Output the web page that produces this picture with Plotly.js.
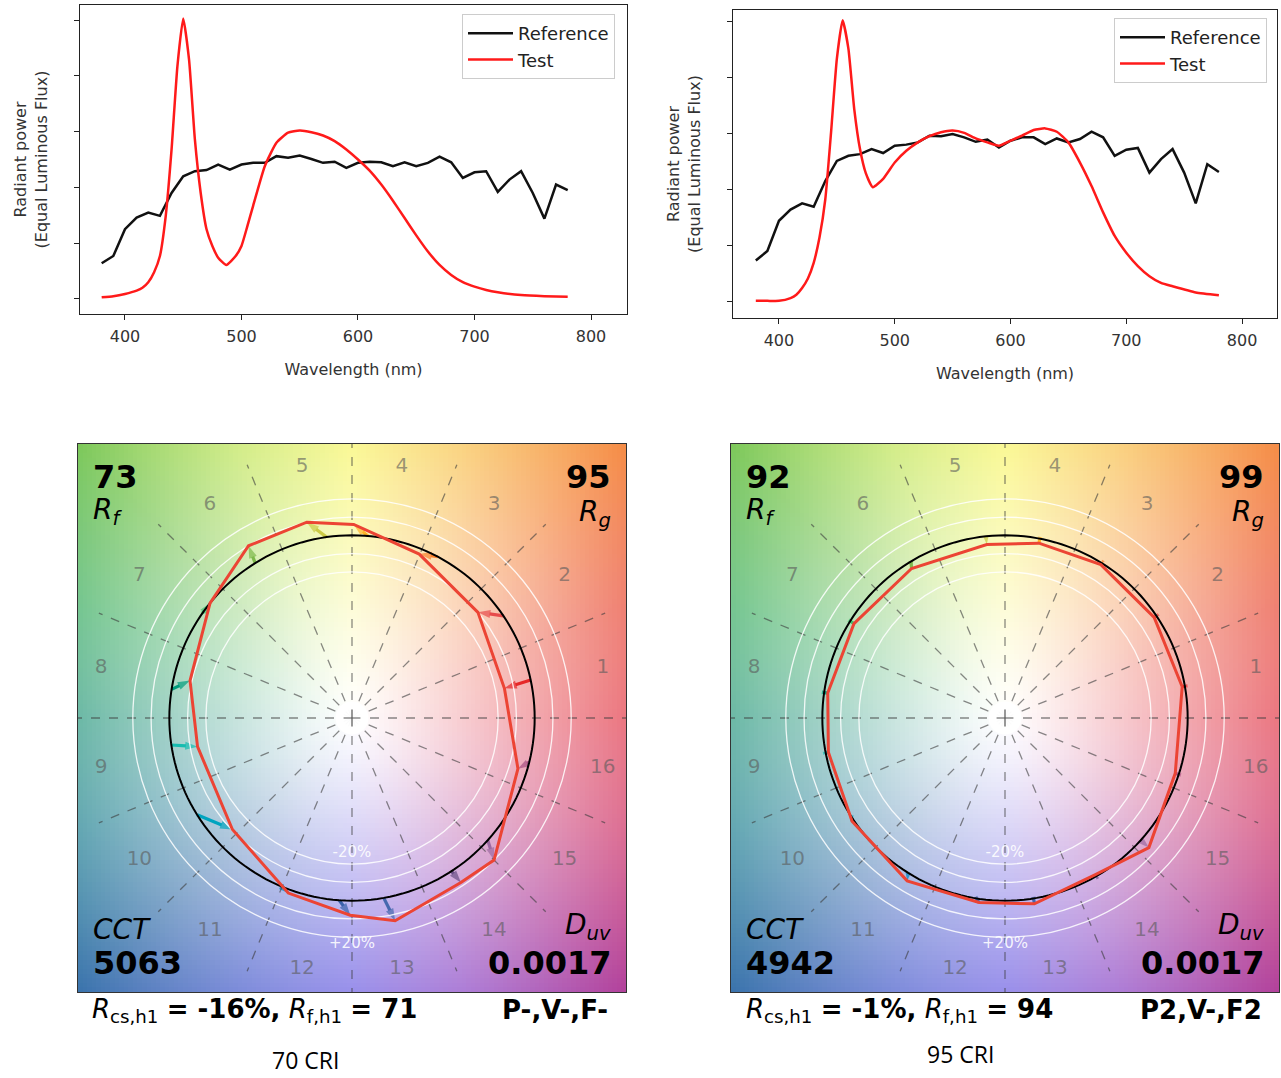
<!DOCTYPE html>
<html><head><meta charset="utf-8">
<script src="https://cdn.plot.ly/plotly-3.0.1.min.js"></script>
<style>html,body{margin:0;padding:0;background:#fff;} #chart{width:1281px;height:1078px;}</style>
</head><body><div id="chart"></div>
<script>
// ---------------- spectral data ----------------
const wlRef = [380,390,400,410,420,430,440,450,460,470,480,490,500,510,520,530,540,550,560,570,580,590,600,610,620,630,640,650,660,670,680,690,700,710,720,730,740,750,760,770,780];
const refLeft = [0.64,0.77,1.25,1.46,1.55,1.49,1.90,2.20,2.29,2.31,2.41,2.32,2.41,2.44,2.44,2.56,2.53,2.57,2.51,2.44,2.46,2.35,2.44,2.46,2.45,2.38,2.45,2.38,2.44,2.55,2.45,2.17,2.27,2.29,1.92,2.14,2.29,1.90,1.44,2.05,1.95];
const refRight = [0.74,0.91,1.45,1.65,1.76,1.70,2.16,2.52,2.61,2.64,2.73,2.66,2.79,2.81,2.85,2.97,2.96,3.00,2.94,2.86,2.90,2.76,2.88,2.94,2.94,2.82,2.92,2.85,2.91,3.04,2.94,2.61,2.72,2.75,2.31,2.55,2.73,2.31,1.76,2.46,2.32];

const wlTestLeft = [380,390,400,410,415,420,425,430,435,440,445,450,455,460,465,470,475,480,487,495,500,505,510,520,530,540,550,560,570,580,590,600,610,620,630,640,650,660,670,680,690,700,710,720,740,760,780];
const testLeft = [0.03,0.05,0.09,0.15,0.20,0.30,0.48,0.77,1.49,2.68,4.17,5.03,4.29,2.86,1.90,1.25,0.95,0.74,0.61,0.77,0.95,1.30,1.67,2.38,2.80,2.98,3.02,2.99,2.93,2.83,2.68,2.50,2.30,2.05,1.76,1.45,1.14,0.85,0.61,0.43,0.30,0.22,0.16,0.12,0.07,0.05,0.04];

const wlTestRight = [380,390,400,410,415,420,425,430,435,440,445,450,455,460,465,470,475,481,490,500,510,520,530,540,550,560,570,580,590,600,610,620,630,640,650,660,670,680,690,700,710,720,730,740,760,780];
const testRight = [0.02,0.02,0.02,0.07,0.13,0.25,0.42,0.70,1.15,1.83,3.03,4.34,5.03,4.52,3.45,2.73,2.30,2.05,2.20,2.49,2.70,2.85,2.96,3.03,3.06,3.02,2.92,2.85,2.79,2.88,2.97,3.07,3.10,3.04,2.85,2.49,2.07,1.60,1.18,0.88,0.64,0.46,0.34,0.28,0.17,0.12];

const yTickVals = [0,1,2,3,4,5];
const xTickVals = [400,500,600,700,800];

// ---------------- colour vector graphic data ----------------
const binLabels = ['1','2','3','4','5','6','7','8','9','10','11','12','13','14','15','16'];
const binLabelAngles = [11.25,33.75,56.25,78.75,101.25,123.75,146.25,168.75,191.25,213.75,236.25,258.75,281.25,303.75,326.25,348.75];
const binColors = ['#e62828','#e74b4b','#fb812e','#ffb529','#cbca46','#7eb94c','#41c06d','#009c7c','#16bcb0','#00a4bf','#0085c3','#3b62aa','#4568ae','#6a4e85','#9d69a1','#a74f81'];

// 70 CRI source
const refHueLeft  = [12,34,62,85,98,122,145,171,188.5,212,247,266,280,303,318,346];
const testHueLeft = [11,40,67.7,89.5,103,121,141,167,190.5,223,250,269.5,282,303.5,315,343];
const testRadLeft = [0.85,0.90,0.97,1.06,1.10,1.10,1.00,0.91,0.86,0.895,1.02,1.08,1.135,1.08,1.10,0.95];
// 95 CRI source
const refHueRight  = [10,34,58,79,96,121,148,172,191,213,238,261,279,300,318,342];
const testHueRight = [10,34,58,79,96,122,148,172,191,214,239,262,279,300,318,342];
const testRadRight = [0.985,0.985,0.99,0.975,0.955,0.965,0.975,0.98,0.985,1.01,1.04,1.02,1.03,0.99,1.06,0.98];

const rfValues   = ['73','92'];
const rgValues   = ['95','99'];
const cctValues  = ['5063','4942'];
const duvValues  = ['0.0017','0.0017'];
const rcsValues  = ['-16%','-1%'];
const rfh1Values = ['71','94'];
const classValues = ['P-,V-,F-','P2,V-,F2'];
const captions   = ['70 CRI','95 CRI'];

// background hue wheel
const bgHueAngles = [0,22.5,45,67.5,90,112.5,135,157.5,180,202.5,225,247.5,270,292.5,315,337.5,360];
const bgHueColors = [[226,55,70],[234,85,65],[245,140,70],[248,195,85],[248,245,100],[195,230,95],[125,200,90],[70,178,105],[40,152,125],[45,136,152],[58,115,172],[80,100,205],[105,92,225],[145,80,200],[178,65,155],[208,60,110],[226,55,70]];

// ---------------- helpers ----------------
const FONT = 'DejaVu Sans, sans-serif';
function buildBg(N){
  const z=[]; const d=3/N;
  for(let i=0;i<N;i++){
    const y=-1.5+d*(i+0.5); const row=[];
    for(let j=0;j<N;j++){
      const x=-1.5+d*(j+0.5);
      const r=Math.hypot(x,y);
      let a=Math.atan2(y,x)*180/Math.PI; if(a<0) a+=360;
      let k=0; while(k<bgHueAngles.length-2 && a>=bgHueAngles[k+1]) k++;
      const t=(a-bgHueAngles[k])/(bgHueAngles[k+1]-bgHueAngles[k]);
      const c0=bgHueColors[k], c1=bgHueColors[k+1];
      const s=Math.min(1,Math.pow(r/2.12,1.1));
      row.push([0,1,2].map(m=>Math.round(255+((c0[m]*(1-t)+c1[m]*t)-255)*s)));
    }
    z.push(row);
  }
  return z;
}
const bgZ = buildBg(120);
const circleTheta=[]; for(let t=0;t<=360;t+=2) circleTheta.push(t);

const traces = [];
traces.push({type:'scatter',mode:'lines',x:wlRef,y:refLeft,name:'Reference',line:{color:'#111',width:2.5},xaxis:'x',yaxis:'y',legend:'legend'});
traces.push({type:'scatter',mode:'lines',x:wlTestLeft,y:testLeft,name:'Test',line:{color:'#ff1a1a',width:2.5,shape:'spline',smoothing:0.5},xaxis:'x',yaxis:'y',legend:'legend'});
traces.push({type:'scatter',mode:'lines',x:wlRef,y:refRight,name:'Reference',line:{color:'#111',width:2.5},xaxis:'x2',yaxis:'y2',legend:'legend2'});
traces.push({type:'scatter',mode:'lines',x:wlTestRight,y:testRight,name:'Test',line:{color:'#ff1a1a',width:2.5,shape:'spline',smoothing:0.5},xaxis:'x2',yaxis:'y2',legend:'legend2'});

const d=3/120;
traces.push({type:'image',z:bgZ,x0:-1.5+d/2,dx:d,y0:-1.5+d/2,dy:d,zsmooth:'fast',xaxis:'x3',yaxis:'y3',hoverinfo:'skip'});
traces.push({type:'image',z:bgZ,x0:-1.5+d/2,dx:d,y0:-1.5+d/2,dy:d,zsmooth:'fast',xaxis:'x4',yaxis:'y4',hoverinfo:'skip'});

// hue-bin arrows (reference point on unit circle -> test point)
const rad=Math.PI/180;
function arrowTraces(xa, ya, refHue, testHue, testRad){
  const out=[];
  for(let i=0;i<binLabels.length;i++){
    const x0=Math.cos(refHue[i]*rad), y0=Math.sin(refHue[i]*rad);
    const x1=testRad[i]*Math.cos(testHue[i]*rad), y1=testRad[i]*Math.sin(testHue[i]*rad);
    const len=Math.hypot(x1-x0,y1-y0);
    out.push({type:'scatter',mode:'lines+markers',xaxis:xa,yaxis:ya,
      x:[x0,x1], y:[y0,y1],
      line:{color:binColors[i],width:3.2},
      marker:{symbol:'arrow',size:[0,Math.min(13,4+len*110)],angleref:'previous',color:binColors[i],line:{width:0}},
      showlegend:false,hoverinfo:'skip'});
  }
  return out;
}
traces.push(...arrowTraces('x3','y3',refHueLeft,testHueLeft,testRadLeft));
traces.push(...arrowTraces('x4','y4',refHueRight,testHueRight,testRadRight));

function polarTraces(sub, testHue, testRad){
  const out=[];
  out.push({type:'scatterpolar',subplot:sub,mode:'lines',r:circleTheta.map(()=>0.09),theta:circleTheta,fill:'toself',fillcolor:'rgba(255,255,255,0.97)',line:{width:0,color:'rgba(255,255,255,0)'},showlegend:false,hoverinfo:'skip'});
  out.push({type:'scatterpolar',subplot:sub,mode:'markers',r:[0],theta:[0],marker:{symbol:'cross-thin',size:12,line:{color:'#555',width:1.2}},showlegend:false,hoverinfo:'skip'});
  out.push({type:'scatterpolar',subplot:sub,mode:'text',r:binLabels.map(()=>1.4),theta:binLabelAngles,text:binLabels,textfont:{family:FONT,size:20,color:'rgba(90,90,90,0.6)'},showlegend:false,hoverinfo:'skip'});
  out.push({type:'scatterpolar',subplot:sub,mode:'text',r:[0.74,1.24],theta:[270,270],text:['-20%','+20%'],textfont:{family:FONT,size:15,color:'rgba(255,255,255,0.9)'},showlegend:false,hoverinfo:'skip'});
  out.push({type:'scatterpolar',subplot:sub,mode:'lines',r:circleTheta.map(()=>1),theta:circleTheta,line:{color:'#000',width:2},showlegend:false,hoverinfo:'skip'});
  out.push({type:'scatterpolar',subplot:sub,mode:'lines',r:testRad.concat([testRad[0]]),theta:testHue.concat([testHue[0]]),line:{color:'#ec4434',width:3},showlegend:false,hoverinfo:'skip'});
  return out;
}
traces.push(...polarTraces('polar',testHueLeft,testRadLeft));
traces.push(...polarTraces('polar2',testHueRight,testRadRight));

function panelAnnotations(k, xr, yr, leftPx, rightPx){
  const a=[];
  const big={family:FONT,size:32,color:'#000'};
  const mid={family:FONT,size:28,color:'#000'};
  a.push({xref:xr,yref:yr,x:-1.43,y:1.32,xanchor:'left',yanchor:'middle',text:'<b>'+rfValues[k]+'</b>',showarrow:false,font:big});
  a.push({xref:xr,yref:yr,x:-1.43,y:1.13,xanchor:'left',yanchor:'middle',text:'<i>R<sub>f</sub></i>',showarrow:false,font:mid});
  a.push({xref:xr,yref:yr,x:1.43,y:1.32,xanchor:'right',yanchor:'middle',text:'<b>'+rgValues[k]+'</b>',showarrow:false,font:big});
  a.push({xref:xr,yref:yr,x:1.43,y:1.12,xanchor:'right',yanchor:'middle',text:'<i>R<sub>g</sub></i>',showarrow:false,font:mid});
  a.push({xref:xr,yref:yr,x:-1.43,y:-1.16,xanchor:'left',yanchor:'middle',text:'<i>CCT</i>',showarrow:false,font:mid});
  a.push({xref:xr,yref:yr,x:-1.43,y:-1.34,xanchor:'left',yanchor:'middle',text:'<b>'+cctValues[k]+'</b>',showarrow:false,font:big});
  a.push({xref:xr,yref:yr,x:1.43,y:-1.14,xanchor:'right',yanchor:'middle',text:'<i>D<sub>uv</sub></i>',showarrow:false,font:mid});
  a.push({xref:xr,yref:yr,x:1.43,y:-1.34,xanchor:'right',yanchor:'middle',text:'<b>'+duvValues[k]+'</b>',showarrow:false,font:big});
  const small={family:FONT,size:26,color:'#000'};
  a.push({xref:'paper',yref:'paper',x:leftPx/1281,y:1-1010/1078,xanchor:'left',yanchor:'middle',text:'<i>R</i><sub>cs,h1</sub>&nbsp;<b>=&nbsp;'+rcsValues[k]+',</b>&nbsp;<i>R</i><sub>f,h1</sub>&nbsp;<b>=&nbsp;'+rfh1Values[k]+'</b>',showarrow:false,font:small});
  a.push({xref:'paper',yref:'paper',x:rightPx/1281,y:1-1010/1078,xanchor:'right',yanchor:'middle',text:'<b>'+classValues[k]+'</b>',showarrow:false,font:small});
  return a;
}
const annotations = [].concat(
  panelAnnotations(0,'x3','y3',90,610),
  panelAnnotations(1,'x4','y4',744,1264),
  [{xref:'paper',yref:'paper',x:305/1281,y:1-1060/1078,xanchor:'center',yanchor:'middle',text:captions[0],showarrow:false,font:{family:'Open Sans, sans-serif',size:23,color:'#000'}},
   {xref:'paper',yref:'paper',x:960/1281,y:1-1054/1078,xanchor:'center',yanchor:'middle',text:captions[1],showarrow:false,font:{family:'Open Sans, sans-serif',size:23,color:'#000'}}]
);

function specX(dom,range,anchor){return {domain:dom,range:range,anchor:anchor,tickvals:xTickVals,ticks:'outside',ticklen:5,tickwidth:1,tickcolor:'#222',ticklabelstandoff:3,showline:true,mirror:true,linecolor:'#222',linewidth:1.2,showgrid:false,zeroline:false,tickfont:{family:FONT,size:16,color:'#333'},title:{text:'Wavelength (nm)',font:{family:FONT,size:16,color:'#333'},standoff:18}};}
function specY(dom,range,anchor){return {domain:dom,range:range,anchor:anchor,tickvals:yTickVals,showticklabels:false,ticks:'outside',ticklen:5,tickwidth:1,tickcolor:'#222',showline:true,mirror:true,linecolor:'#222',linewidth:1.2,showgrid:false,zeroline:false,title:{text:'Radiant power<br>(Equal Luminous Flux)',font:{family:FONT,size:16,color:'#333'},standoff:22}};}
function cvgAxis(dom,anchor){return {domain:dom,range:[-1.5,1.5],autorange:false,anchor:anchor,showticklabels:false,ticks:'',showgrid:false,zeroline:false,showline:true,mirror:true,linecolor:'#333',linewidth:1.2};}
function polarLayout(xd,yd){return {domain:{x:xd,y:yd},bgcolor:'rgba(0,0,0,0)',
  radialaxis:{range:[0,1.5],tickvals:[0.8,0.9,1.1,1.2],showticklabels:false,ticks:'',showline:false,gridcolor:'rgba(255,255,255,0.85)',gridwidth:1.3},
  angularaxis:{tickmode:'linear',tick0:0,dtick:22.5,showticklabels:false,ticks:'',showline:false,gridcolor:'rgba(60,60,60,0.6)',griddash:'dash',gridwidth:1.3,direction:'counterclockwise',rotation:0}};}

const bxL=[78/1281,626/1281], bxR=[731/1281,1279/1281], by=[1-992/1078,1-444/1078];
const legendCommon={bgcolor:'rgba(255,255,255,0.85)',bordercolor:'#cccccc',borderwidth:1,font:{family:FONT,size:18,color:'#222'},xanchor:'left',yanchor:'top',tracegroupgap:0,itemwidth:45};
const layout = {
  width:1281,height:1078,margin:{l:0,r:0,t:0,b:0},paper_bgcolor:'#fff',plot_bgcolor:'#fff',
  xaxis:specX([80/1281,627/1281],[361.4,830.9],'y'),
  yaxis:specY([1-314/1078,1-5/1078],[-0.27,5.27],'x'),
  xaxis2:specX([733/1281,1277/1281],[360.3,830.2],'y2'),
  yaxis2:specY([1-318/1078,1-10/1078],[-0.286,5.214],'x2'),
  xaxis3:cvgAxis(bxL,'y3'), yaxis3:Object.assign(cvgAxis(by,'x3'),{scaleanchor:false}),
  xaxis4:cvgAxis(bxR,'y4'), yaxis4:Object.assign(cvgAxis(by,'x4'),{scaleanchor:false}),
  polar:polarLayout(bxL,by), polar2:polarLayout(bxR,by),
  legend:Object.assign({x:462/1281,y:1-14/1078},legendCommon),
  legend2:Object.assign({x:1114/1281,y:1-18/1078},legendCommon),
  annotations:annotations,
  showlegend:true
};
Plotly.newPlot('chart',traces,layout,{displayModeBar:false,staticPlot:true});
</script></body></html>
